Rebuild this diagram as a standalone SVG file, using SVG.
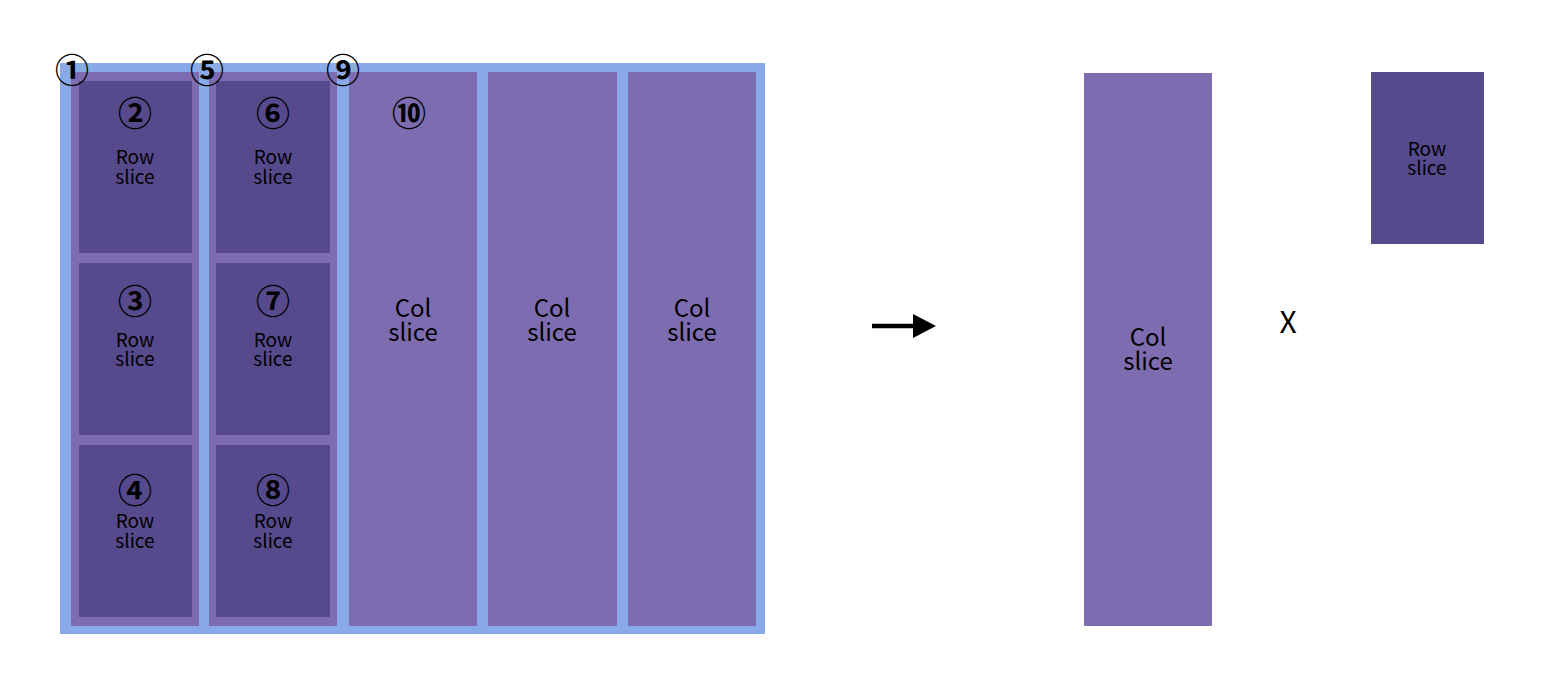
<svg xmlns="http://www.w3.org/2000/svg" width="1566" height="692" viewBox="0 0 1566 692">
<style>
.bg{fill:#88aae8}
.col{fill:#7e6cb0}
.row{fill:#564a8d}
text{font-family:"Noto Sans CJK KR","Noto Sans",sans-serif;fill:#000;text-anchor:middle;dominant-baseline:central}
.num{font-size:34px;font-weight:bold}
.rl{font-size:19px}
.cl{font-size:24px}
.x{font-size:30px}
</style>
<rect width="1566" height="692" fill="#fff"/>
<g id="matrix">
<rect class="bg" x="60" y="63" width="705" height="571"/>
</g>
<g id="col1"><rect class="col" x="71" y="72" width="128" height="554"/></g>
<g id="col2"><rect class="col" x="209" y="72" width="128" height="554"/></g>
<g id="col3"><rect class="col" x="349" y="72" width="128" height="554"/><text class="cl" x="413" y="306">Col<tspan x="413" dy="24">slice</tspan></text></g>
<g id="col4"><rect class="col" x="488" y="72" width="129" height="554"/><text class="cl" x="552" y="306">Col<tspan x="552" dy="24">slice</tspan></text></g>
<g id="col5"><rect class="col" x="628" y="72" width="128" height="554"/><text class="cl" x="692" y="306">Col<tspan x="692" dy="24">slice</tspan></text></g>
<g id="r2"><rect class="row" x="79" y="81" width="113" height="172"/><text class="num" x="135" y="111">②</text><text class="rl" x="135" y="155">Row<tspan x="135" dy="20">slice</tspan></text></g>
<g id="r3"><rect class="row" x="79" y="263" width="113" height="172"/><text class="num" x="135" y="299">③</text><text class="rl" x="135" y="338">Row<tspan x="135" dy="19">slice</tspan></text></g>
<g id="r4"><rect class="row" x="79" y="445" width="113" height="172"/><text class="num" x="135" y="488">④</text><text class="rl" x="135" y="519">Row<tspan x="135" dy="20">slice</tspan></text></g>
<g id="r6"><rect class="row" x="216" y="81" width="114" height="172"/><text class="num" x="273" y="111">⑥</text><text class="rl" x="273" y="155">Row<tspan x="273" dy="20">slice</tspan></text></g>
<g id="r7"><rect class="row" x="216" y="263" width="114" height="172"/><text class="num" x="273" y="299">⑦</text><text class="rl" x="273" y="338">Row<tspan x="273" dy="19">slice</tspan></text></g>
<g id="r8"><rect class="row" x="216" y="445" width="114" height="172"/><text class="num" x="273" y="488">⑧</text><text class="rl" x="273" y="519">Row<tspan x="273" dy="20">slice</tspan></text></g>
<g id="labels">
<text class="num" x="72" y="68.5">①</text>
<text class="num" x="207" y="68.5">⑤</text>
<text class="num" x="343" y="68.5">⑨</text>
<text class="num" x="409" y="111">⑩</text>
</g>
<g id="connectors">
<line x1="872" y1="326" x2="914" y2="326" stroke="#000" stroke-width="4.5"/>
<polygon points="913,314 936,326 913,338" fill="#000"/>
</g>
<g id="colslice"><rect class="col" x="1084" y="73" width="128" height="553"/><text class="cl" x="1148" y="335">Col<tspan x="1148" dy="24">slice</tspan></text></g>
<g id="times"><text class="x" x="1288" y="320">X</text></g>
<g id="rowslice"><rect class="row" x="1371" y="72" width="113" height="172"/><text class="rl" x="1427" y="147">Row<tspan x="1427" dy="19">slice</tspan></text></g>
</svg>
